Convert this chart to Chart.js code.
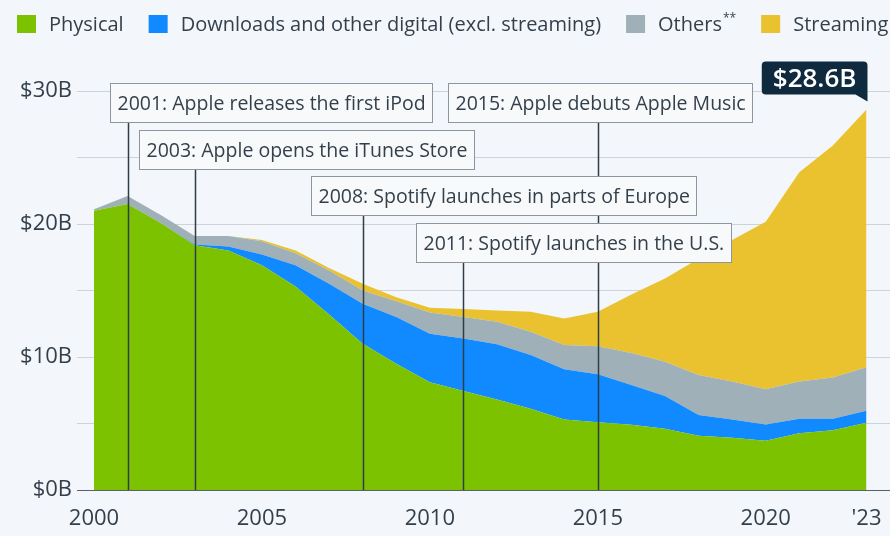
<!DOCTYPE html>
<html>
<head>
<meta charset="utf-8">
<script src="https://cdn.jsdelivr.net/npm/chart.js@4/dist/chart.umd.min.js"></script>
<style>
  html, body { margin: 0; padding: 0; background: #f3f6fa; }
  #wrap { width: 890px; height: 536px; position: relative; }
</style>
</head>
<body>
<div id="wrap"><canvas id="c" width="890" height="536"></canvas></div>
<script>
// ---------- DATA ----------
const years = [2000,2001,2002,2003,2004,2005,2006,2007,2008,2009,2010,2011,2012,2013,2014,2015,2016,2017,2018,2019,2020,2021,2022,2023];
const physical  = [21.0,21.5,20.05,18.4,18.0,16.9,15.3,13.2,11.0,9.5,8.1,7.45,6.8,6.1,5.3,5.1,4.9,4.6,4.08,3.93,3.71,4.26,4.5,5.06];
const downloads = [0,0,0,0.05,0.3,0.8,1.6,2.3,3.0,3.5,3.65,3.95,4.15,4.05,3.77,3.6,3.0,2.47,1.56,1.37,1.22,1.1,0.86,0.9];
const others    = [0.1,0.6,0.6,0.65,0.8,1.0,0.9,1.0,1.0,1.2,1.6,1.6,1.7,1.75,1.83,2.1,2.4,2.58,3.0,2.85,2.64,2.79,3.09,3.26];
const streaming = [0,0,0,0,0,0.1,0.2,0.2,0.5,0.3,0.35,0.6,0.85,1.5,2.0,2.6,4.4,6.25,8.75,10.65,12.6,15.75,17.45,19.38];
const seriesNames = ['Physical','Downloads and other digital (excl. streaming)','Others**','Streaming'];

const xTickValues = [2000,2005,2010,2015,2020,2023];
const xTickLabels = ['2000','2005','2010','2015','2020',"'23"];
const yGridValues = [0,5,10,15,20,25,30];
const yTickValues = [0,10,20,30];
const yTickLabels = ['$0B','$10B','$20B','$30B'];

const eventYears  = [2001,2003,2008,2011,2015];
const eventLabels = ['2001: Apple releases the first iPod','2003: Apple opens the iTunes Store','2008: Spotify launches in parts of Europe','2011: Spotify launches in the U.S.','2015: Apple debuts Apple Music'];

// ---------- STYLE / LAYOUT ----------
const FONT = '"Open Sans", "Noto Sans", sans-serif';
const TEXT = '#333f4b';
const BG = '#f3f6fa';
const colors = ['#7cc200','#118aff','#a0b0b9','#eac230'];
const eventRows   = [0,1,2,3,0];
const eventShifts = [19,57,53,48,151];

const datasets = [physical, downloads, others, streaming].map((arr, i) => ({
  label: seriesNames[i],
  data: years.map((yr, k) => ({ x: yr, y: arr[k] })),
  backgroundColor: colors[i],
  borderColor: colors[i],
  borderWidth: 0,
  pointRadius: 0,
  pointHoverRadius: 0,
  tension: 0,
  fill: i === 0 ? 'origin' : '-1'
}));

const bgPlugin = {
  id: 'bg',
  beforeDraw(chart) {
    const c = chart.ctx;
    c.save(); c.fillStyle = BG; c.fillRect(0, 0, chart.width, chart.height); c.restore();
  }
};

const eventsPlugin = {
  id: 'events',
  afterDatasetsDraw(chart) {
    const c = chart.ctx, xs = chart.scales.x, ys = chart.scales.y, top0 = chart.chartArea.top;
    const boxH = 39, rowStep = 46.7, pad = 7;
    c.save();
    c.font = '19.5px ' + FONT;
    const boxes = eventYears.map((yr, i) => {
      const lx = Math.round(xs.getPixelForValue(yr)) + 0.5;
      const top = Math.round(top0 - 8 + eventRows[i] * rowStep) + 0.5;
      const w = Math.round(c.measureText(eventLabels[i]).width + pad * 2);
      return { lx, top, left: Math.round(lx - eventShifts[i]) + 0.5, w, text: eventLabels[i] };
    });
    c.strokeStyle = '#2f3d48';
    c.lineWidth = 1.5;
    boxes.forEach(b => {
      c.beginPath();
      c.moveTo(b.lx, b.top + boxH);
      c.lineTo(b.lx, ys.getPixelForValue(0));
      c.stroke();
    });
    boxes.forEach(b => {
      c.fillStyle = '#f7f9fb';
      c.fillRect(b.left, b.top, b.w, boxH);
      c.strokeStyle = '#8c969f';
      c.lineWidth = 1;
      c.strokeRect(b.left, b.top, b.w, boxH);
      c.fillStyle = TEXT;
      c.textBaseline = 'middle';
      c.textAlign = 'left';
      c.fillText(b.text, b.left + pad, b.top + boxH / 2 + 1);
    });
    c.restore();
  }
};

const badgePlugin = {
  id: 'badge',
  afterDatasetsDraw(chart) {
    const c = chart.ctx, xs = chart.scales.x, ys = chart.scales.y;
    const last = years.length - 1;
    const total = physical[last] + downloads[last] + others[last] + streaming[last];
    const px = xs.getPixelForValue(years[last]);
    const py = ys.getPixelForValue(total);
    const txt = '$' + total.toFixed(1) + 'B';
    c.save();
    c.font = '600 26px ' + FONT;
    const tw = c.measureText(txt).width;
    const h = 33, right = px + 1, w = tw + 22, bottom = py - 15, left = right - w, top = bottom - h, r = 4;
    c.fillStyle = '#0f2a3e';
    c.beginPath();
    c.moveTo(left + r, top);
    c.lineTo(right - r, top);
    c.quadraticCurveTo(right, top, right, top + r);
    c.lineTo(right, bottom + 7);
    c.lineTo(right - 12, bottom);
    c.lineTo(left + r, bottom);
    c.quadraticCurveTo(left, bottom, left, bottom - r);
    c.lineTo(left, top + r);
    c.quadraticCurveTo(left, top, left + r, top);
    c.closePath();
    c.fill();
    c.fillStyle = '#ffffff';
    c.textBaseline = 'middle';
    c.textAlign = 'center';
    c.fillText(txt, left + w / 2, top + h / 2 + 1);
    c.restore();
  }
};

const legendPlugin = {
  id: 'customLegend',
  afterDraw(chart) {
    const c = chart.ctx;
    c.save();
    c.textBaseline = 'middle';
    c.textAlign = 'left';
    let x = 17;
    const cy = 25;
    seriesNames.forEach((name, i) => {
      c.fillStyle = colors[i];
      c.fillRect(x, 15, 19, 18);
      let tx = x + 32;
      c.fillStyle = TEXT;
      c.font = '20px ' + FONT;
      let base = name, sup = '';
      if (name.endsWith('**')) { base = name.slice(0, -2); sup = '**'; }
      c.fillText(base, tx, cy);
      tx += c.measureText(base).width;
      if (sup) {
        c.font = '12px ' + FONT;
        c.fillText(sup, tx + 1, cy - 6);
        tx += c.measureText(sup).width + 1;
      }
      x = tx + 25;
    });
    c.restore();
  }
};

new Chart(document.getElementById('c'), {
  type: 'line',
  data: { datasets },
  plugins: [bgPlugin, eventsPlugin, badgePlugin, legendPlugin],
  options: {
    responsive: false,
    animation: false,
    devicePixelRatio: 1,
    layout: { padding: { top: 91, right: 0, bottom: 0, left: 0 } },
    plugins: { legend: { display: false }, tooltip: { enabled: false } },
    elements: { line: { borderWidth: 0 } },
    scales: {
      x: {
        type: 'linear', min: 2000, max: 2023.7,
        afterBuildTicks(s) { s.ticks = xTickValues.map(v => ({ value: v })); },
        afterFit(s) { s.height = 46; s.paddingRight = 0; s.paddingLeft = 0; },
        ticks: {
          autoSkip: false, maxRotation: 0, padding: 16,
          color: TEXT, font: { family: FONT, size: 22 },
          callback: v => xTickLabels[xTickValues.indexOf(v)]
        },
        grid: { display: false, drawTicks: false },
        border: { display: false }
      },
      y: {
        stacked: true, min: 0, max: 30,
        afterBuildTicks(s) { s.ticks = yGridValues.map(v => ({ value: v })); },
        afterFit(s) { s.width = 94; },
        ticks: {
          padding: 5, color: TEXT, font: { family: FONT, size: 22 },
          callback: v => { const k = yTickValues.indexOf(v); return k >= 0 ? yTickLabels[k] : ''; }
        },
        grid: {
          color: ctx => (ctx.tick && ctx.tick.value === 0) ? '#56636e' : '#cdd3d9',
          tickColor: ctx => (ctx.tick && ctx.tick.value === 0) ? '#56636e' : '#cdd3d9',
          tickLength: 17, lineWidth: 1
        },
        border: { display: false }
      }
    }
  }
});
</script>
</body>
</html>
